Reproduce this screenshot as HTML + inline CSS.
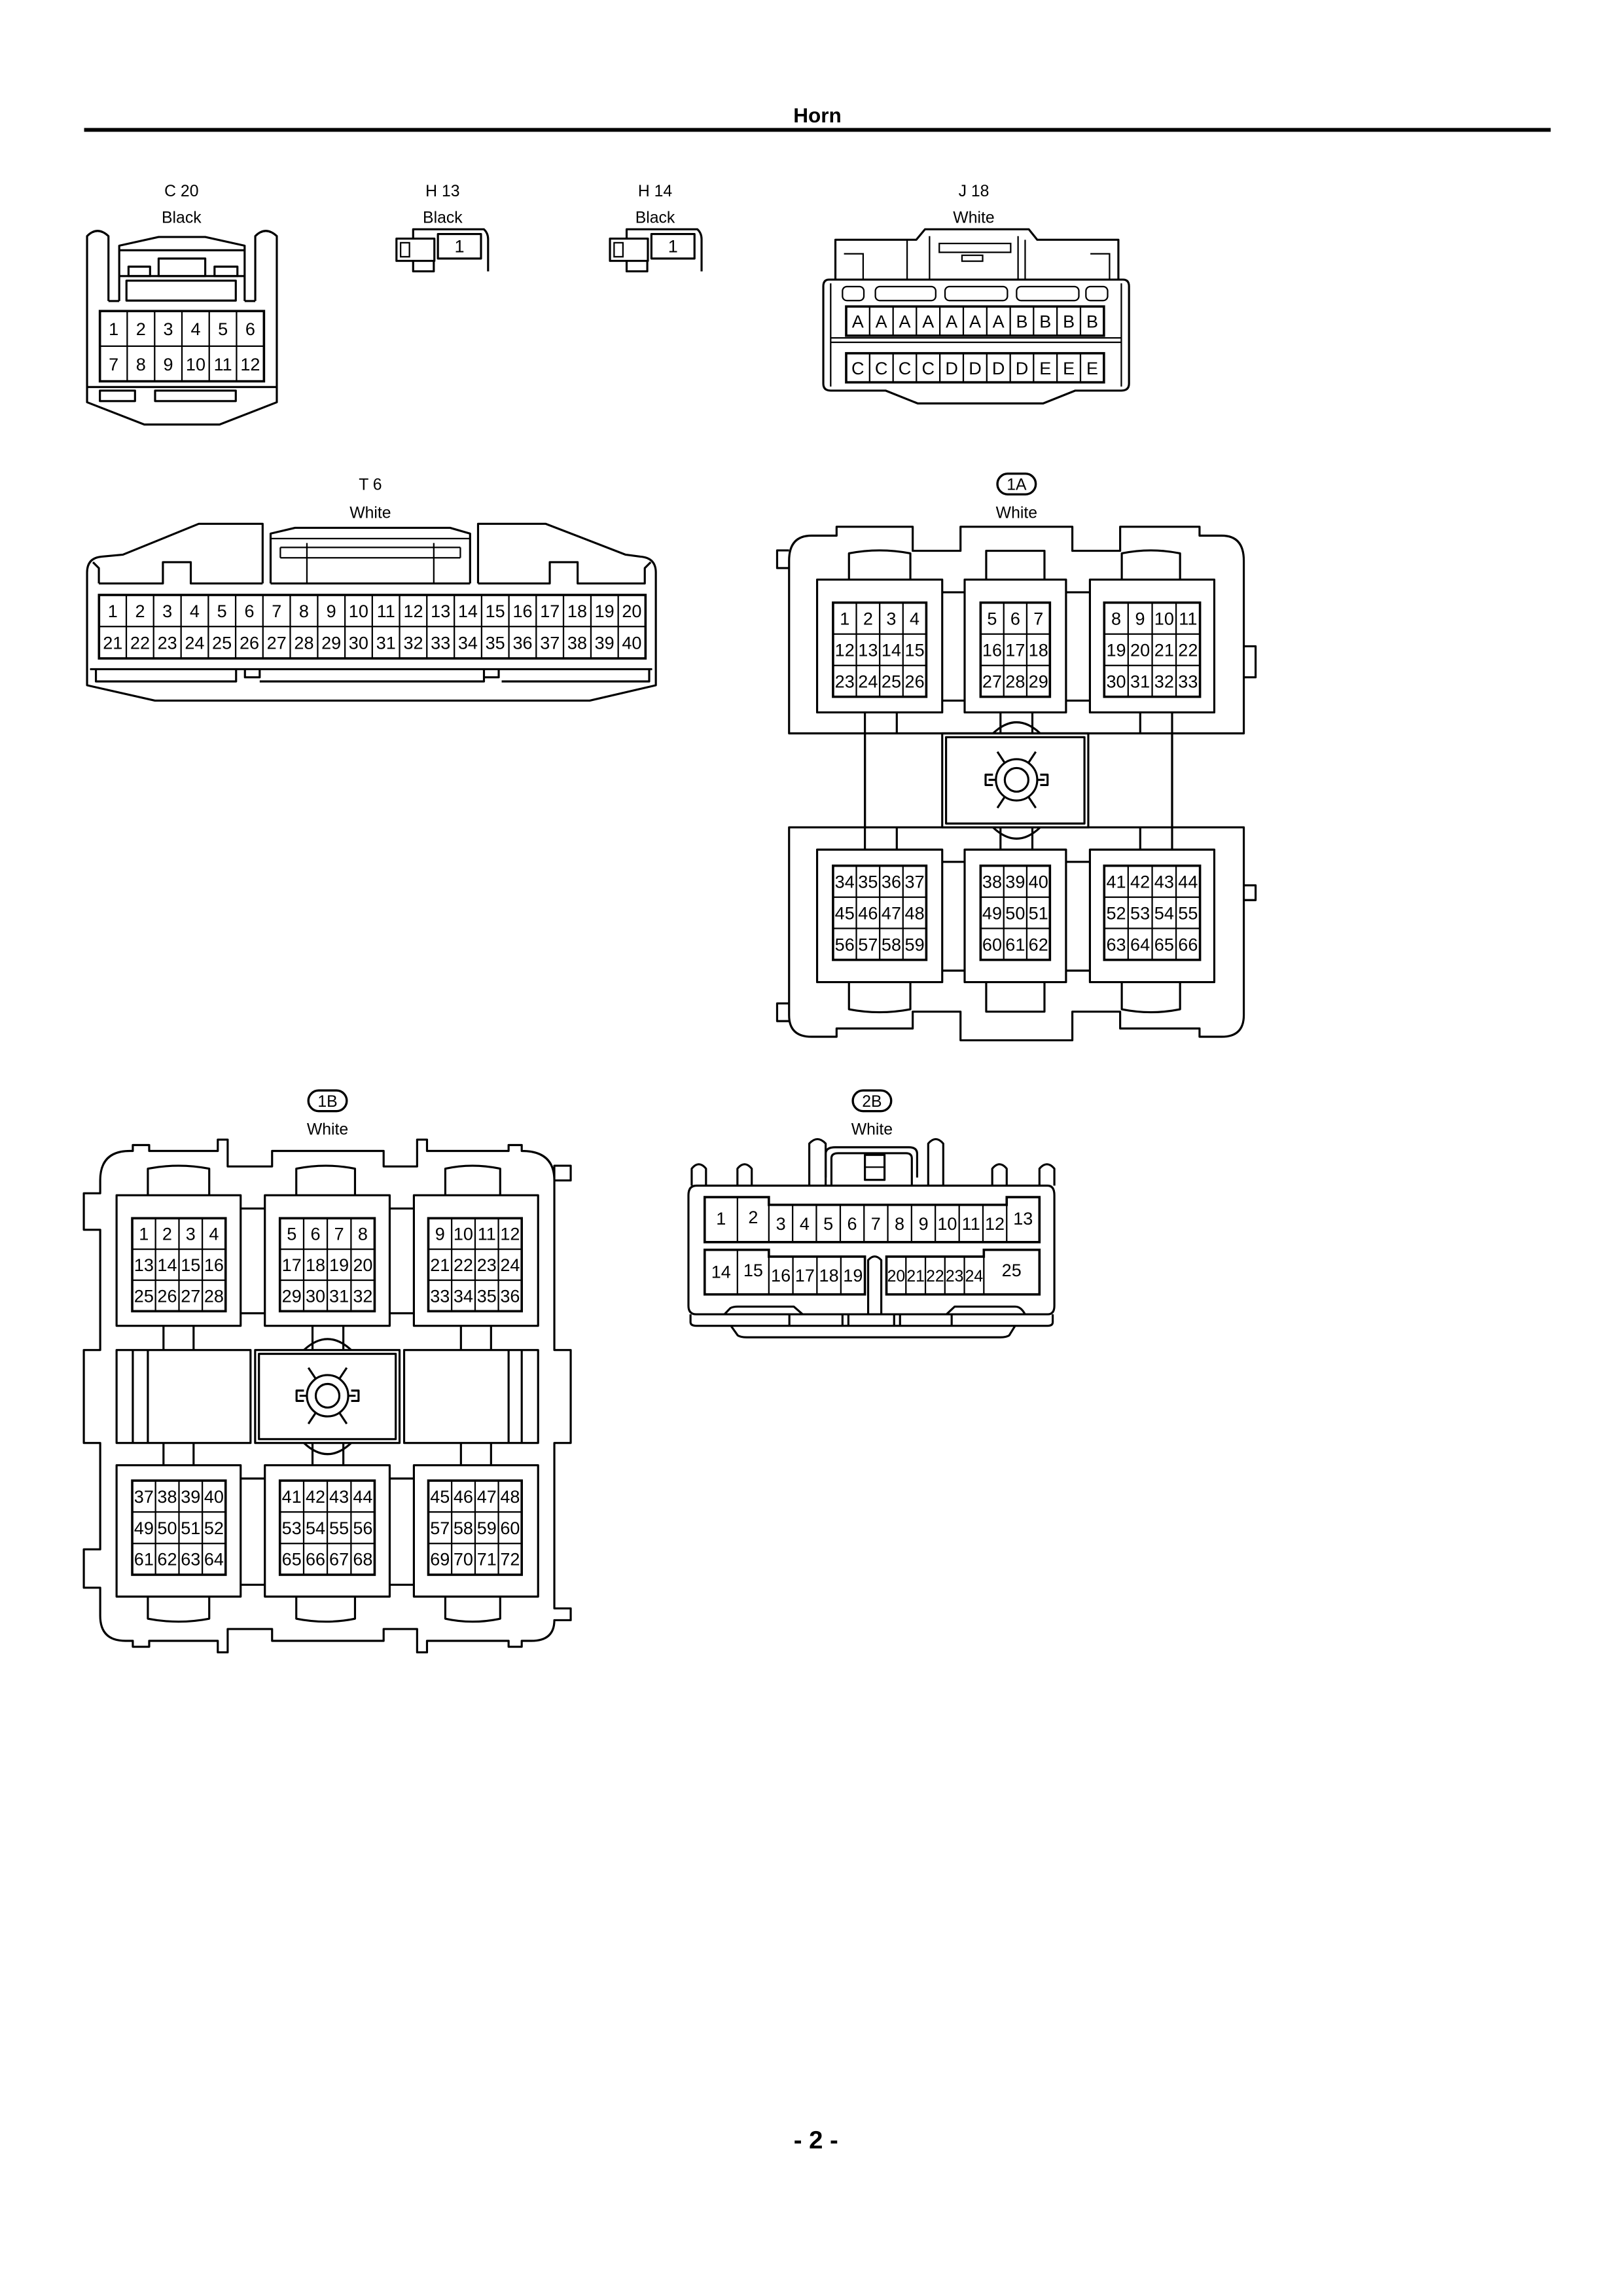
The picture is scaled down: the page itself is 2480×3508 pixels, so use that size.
<!DOCTYPE html>
<html><head><meta charset="utf-8"><style>
html,body{margin:0;padding:0;background:#fff}
svg{display:block}
.o{fill:none;stroke:#000;stroke-width:1.4;stroke-linejoin:round}
.i{fill:none;stroke:#000;stroke-width:1}
.g{fill:none;stroke:#000;stroke-width:1.6}
text{font-family:"Liberation Sans",sans-serif;text-anchor:middle;fill:#000}
.t{font-size:12px}
.s{font-size:11px}
.l{font-size:11px}
</style></head><body>
<svg width="2480" height="3508" viewBox="0 0 1100 1556" xmlns="http://www.w3.org/2000/svg">
<defs></defs>
<rect width="1100" height="1556" fill="#fff"/>
<text x="554" y="83" style="font-size:14px;font-weight:bold">Horn</text>
<line x1="57" y1="88" x2="1051" y2="88" stroke="#000" stroke-width="2.6"/>

<!-- C20 -->
<text class="l" x="123" y="133">C 20</text><text class="l" x="123" y="151">Black</text>
<path class="o" d="M73.5,204 L73.5,160 Q66,153 59,160 L59,272.6 L97.8,287.7 L148.8,287.7 L187.6,272.6 L187.6,160 Q180,153 173,160 L173,204 M73.5,204 L80.8,204 M165.8,204 L173,204"/>
<path class="o" d="M80.8,204 L80.8,166.5 L107.5,160.6 L139.1,160.6 L165.8,166.5 L165.8,204 M80.8,169.6 L165.8,169.6 M80.8,187.1 L165.8,187.1"/>
<rect class="o" x="107.5" y="175.2" width="31.6" height="11.9"/>
<rect class="o" x="87.1" y="180.7" width="14.6" height="6.4"/><rect class="o" x="145.4" y="180.7" width="15.5" height="6.4"/>
<rect class="o" x="85.7" y="190.2" width="74.1" height="13.5"/>
<rect class="g" x="67.7" y="210.8" width="111.2" height="47.6"/>
<path class="i" d="M86.2,210.8V258.4M104.8,210.8V258.4M123.3,210.8V258.4M141.8,210.8V258.4M160.3,210.8V258.4M67.7,234.6H178.9"/>
<line class="o" x1="59" y1="262.3" x2="187.6" y2="262.3"/>
<rect class="o" x="67.7" y="264.7" width="23.8" height="7.1"/><rect class="o" x="105.1" y="264.7" width="54.7" height="7.1"/>
<g class="t"><text x="77" y="227">1</text><text x="95.5" y="227">2</text><text x="114" y="227">3</text><text x="132.6" y="227">4</text><text x="151.1" y="227">5</text><text x="169.6" y="227">6</text>
<text x="77" y="251">7</text><text x="95.5" y="251">8</text><text x="114" y="251">9</text><text x="132.6" y="251">10</text><text x="151.1" y="251">11</text><text x="169.6" y="251">12</text></g>

<!-- H13 / H14 -->
<g>
<rect class="o" x="268.7" y="161.7" width="25.7" height="15.1"/>
<rect class="i" x="271.5" y="164.5" width="6" height="9.5"/>
<path class="o" d="M280,161.7 L280,155.4 L328,155.4 Q330.8,158 330.8,162 L330.8,183.9 M280,176.8 L280,183.9 L294,183.9 L294,176.8"/>
<rect class="o" x="296.8" y="158.6" width="29.2" height="16.6"/>
<text class="t" x="311.4" y="171">1</text>
</g>
<text class="l" x="300" y="133">H 13</text><text class="l" x="300" y="151">Black</text>
<g transform="translate(144.7,0)">
<rect class="o" x="268.7" y="161.7" width="25.7" height="15.1"/>
<rect class="i" x="271.5" y="164.5" width="6" height="9.5"/>
<path class="o" d="M280,161.7 L280,155.4 L328,155.4 Q330.8,158 330.8,162 L330.8,183.9 M280,176.8 L280,183.9 L294,183.9 L294,176.8"/>
<rect class="o" x="296.8" y="158.6" width="29.2" height="16.6"/>
<text class="t" x="311.4" y="171">1</text>
</g>
<text class="l" x="444" y="133">H 14</text><text class="l" x="444" y="151">Black</text>

<!-- J18 -->
<text class="l" x="660" y="133">J 18</text><text class="l" x="660" y="151">White</text>
<path class="o" d="M566.2,189.5 L566.2,162.5 L621,162.5 L626.9,155.4 L697.3,155.4 L703,162.5 L758,162.5 L758,189.5"/>
<path class="o" d="M562,189.5 L761,189.5 Q765.2,189.5 765.2,194 L765.2,260 Q765.2,264.7 760,264.7 L728.8,264.7 L707,273.4 L622,273.4 L600.2,264.7 L563,264.7 Q558,264.7 558,260 L558,194 Q558,189.5 562,189.5 Z"/>
<path class="i" d="M614.8,162.5V189.5M694.8,162.5V189.5M630,160V189.5M690,160V189.5M572,172H585V189.5M739,172H752V189.5"/>
<rect class="i" x="636.6" y="165" width="48.4" height="6"/><rect class="i" x="652" y="173" width="14" height="4"/>
<path class="i" d="M563,229 L760,229 M563,232 L760,232 M563,192 V262 M760,192 V262"/>
<rect class="i" x="571" y="194.2" width="14.5" height="9.5" rx="3"/><rect class="i" x="593.3" y="194.2" width="40.9" height="9.5" rx="3"/><rect class="i" x="640.5" y="194.2" width="42.3" height="9.5" rx="3"/><rect class="i" x="689" y="194.2" width="42.2" height="9.5" rx="3"/><rect class="i" x="736" y="194.2" width="14.7" height="9.5" rx="3"/>
<rect class="g" x="573.5" y="207.7" width="174.7" height="19.8"/><rect class="g" x="573.5" y="239.4" width="174.7" height="19.7"/>
<path class="i" d="M589.4,207.7V227.5M605.3,207.7V227.5M621.1,207.7V227.5M637,207.7V227.5M652.9,207.7V227.5M668.8,207.7V227.5M684.7,207.7V227.5M700.5,207.7V227.5M716.4,207.7V227.5M732.3,207.7V227.5M589.4,239.4V259.1M605.3,239.4V259.1M621.1,239.4V259.1M637,239.4V259.1M652.9,239.4V259.1M668.8,239.4V259.1M684.7,239.4V259.1M700.5,239.4V259.1M716.4,239.4V259.1M732.3,239.4V259.1"/>
<g class="t"><text x="581.4" y="222">A</text><text x="597.3" y="222">A</text><text x="613.2" y="222">A</text><text x="629.1" y="222">A</text><text x="645" y="222">A</text><text x="660.9" y="222">A</text><text x="676.7" y="222">A</text><text x="692.6" y="222">B</text><text x="708.5" y="222">B</text><text x="724.4" y="222">B</text><text x="740.3" y="222">B</text>
<text x="581.4" y="253.7">C</text><text x="597.3" y="253.7">C</text><text x="613.2" y="253.7">C</text><text x="629.1" y="253.7">C</text><text x="645" y="253.7">D</text><text x="660.9" y="253.7">D</text><text x="676.7" y="253.7">D</text><text x="692.6" y="253.7">D</text><text x="708.5" y="253.7">E</text><text x="724.4" y="253.7">E</text><text x="740.3" y="253.7">E</text></g>

<!-- T6 -->
<text class="l" x="251" y="332">T 6</text><text class="l" x="251" y="351">White</text>
<path class="o" d="M178,395.4 L178,355 L134.7,355 L83.3,375.9 L69,377.2 Q59,378 59,388 L59,464.4 L105,474.8 L399.7,474.8 L444.5,464.4 L444.5,388 Q444.5,378 434,377.2 L424,375.9 L369.9,355 L324,355 L324,395.4"/>
<path class="o" d="M67,395.4 L67,385 L63,381 M67,395.4 L110.4,395.4 L110.4,381 L129.3,381 L129.3,395.4 L178,395.4 M183.4,395.4 L318.6,395.4 M324,395.4 L372.6,395.4 L372.6,381 L391.5,381 L391.5,395.4 L437,395.4 L437,385 L441,381"/>
<path class="o" d="M183.4,395.4 L183.4,361.6 L200,357.7 L305,357.7 L318.6,361.6 L318.6,395.4"/>
<path class="i" d="M183.4,365 H318.6 M190,371 H312 M190,378 H312 M190,371 V378 M312,371 V378 M208,368 V395.4 M294,368 V395.4"/>
<rect class="g" x="67.1" y="403.2" width="370.4" height="43"/>
<path class="i" d="M85.6,403.2V446.2M104.1,403.2V446.2M122.7,403.2V446.2M141.2,403.2V446.2M159.7,403.2V446.2M178.2,403.2V446.2M196.7,403.2V446.2M215.3,403.2V446.2M233.8,403.2V446.2M252.3,403.2V446.2M270.8,403.2V446.2M289.3,403.2V446.2M307.9,403.2V446.2M326.4,403.2V446.2M344.9,403.2V446.2M363.4,403.2V446.2M381.9,403.2V446.2M400.5,403.2V446.2M419,403.2V446.2M67.1,424.6H437.5"/>
<path class="o" d="M61,453.5 H442 M65,453.5 V461.8 H160 V453.5 M166,453.5 V459 H176 V453.5 M176,461.8 H328 V453.5 M328,459 H338 V453.5 M340,461.8 H440 V453.5"/>
<g class="t"><text x="76.4" y="418.3">1</text><text x="94.9" y="418.3">2</text><text x="113.4" y="418.3">3</text><text x="131.9" y="418.3">4</text><text x="150.4" y="418.3">5</text><text x="169" y="418.3">6</text><text x="187.5" y="418.3">7</text><text x="206" y="418.3">8</text><text x="224.5" y="418.3">9</text><text x="243" y="418.3">10</text><text x="261.6" y="418.3">11</text><text x="280.1" y="418.3">12</text><text x="298.6" y="418.3">13</text><text x="317.1" y="418.3">14</text><text x="335.6" y="418.3">15</text><text x="354.2" y="418.3">16</text><text x="372.7" y="418.3">17</text><text x="391.2" y="418.3">18</text><text x="409.7" y="418.3">19</text><text x="428.2" y="418.3">20</text>
<text x="76.4" y="439.7">21</text><text x="94.9" y="439.7">22</text><text x="113.4" y="439.7">23</text><text x="131.9" y="439.7">24</text><text x="150.4" y="439.7">25</text><text x="169" y="439.7">26</text><text x="187.5" y="439.7">27</text><text x="206" y="439.7">28</text><text x="224.5" y="439.7">29</text><text x="243" y="439.7">30</text><text x="261.6" y="439.7">31</text><text x="280.1" y="439.7">32</text><text x="298.6" y="439.7">33</text><text x="317.1" y="439.7">34</text><text x="335.6" y="439.7">35</text><text x="354.2" y="439.7">36</text><text x="372.7" y="439.7">37</text><text x="391.2" y="439.7">38</text><text x="409.7" y="439.7">39</text><text x="428.2" y="439.7">40</text></g>

<!-- 1A -->
<rect x="676" y="321" width="26" height="14" rx="7" fill="none" stroke="#000" stroke-width="1.5"/>
<text class="l" x="689" y="332">1A</text><text class="l" x="689" y="351">White</text>
<path class="o" d="M534.8,380 Q534.8,363 550,363 L567,363 L567,357 L618.6,357 L618.6,373.3 L651,373.3 L651,357 L726.8,357 L726.8,373.3 L759.2,373.3 L759.2,357 L813,357 L813,363 L828,363 Q843,363 843,380 L843,497 L794.4,497 L794.4,560.7 L843,560.7 L843,688 Q843,702.6 828,702.6 L813,702.6 L813,697 L759.2,697 L759.2,685.6 L726.8,685.6 L726.8,705 L651,705 L651,685.6 L618.6,685.6 L618.6,697 L567,697 L567,702.6 L550,702.6 Q534.8,702.6 534.8,688 L534.8,560.7 L586.2,560.7 L586.2,497 L534.8,497 Z"/>
<path class="o" d="M534.8,373 H526.7 V385 H534.8 M534.8,680 H526.7 V692 H534.8 M843,438 H851 V459 H843 M843,600 H851 V610 H843"/>
<rect class="o" x="553.8" y="392.8" width="84.8" height="90"/><rect class="o" x="653.8" y="392.8" width="68.7" height="90"/><rect class="o" x="738.7" y="392.8" width="84.3" height="90"/>
<rect class="o" x="553.8" y="575.8" width="84.8" height="89.8"/><rect class="o" x="653.8" y="575.8" width="68.7" height="89.8"/><rect class="o" x="738.7" y="575.8" width="84.3" height="89.8"/>
<path class="o" d="M575.4,392.8V375Q596,371 617,375V392.8M668.4,392.8V373.3H707.9V392.8M760.3,392.8V375Q780,371 799.8,375V392.8M575.4,665.6V684Q596,688 617,684V665.6M668.4,665.6V685.6H707.9V665.6M760.3,665.6V684Q780,688 799.8,684V665.6"/>
<path class="o" d="M638.6,401.4H653.8M722.5,401.4H738.7M638.6,474.8H653.8M722.5,474.8H738.7M638.6,584.1H653.8M722.5,584.1H738.7M638.6,657.8H653.8M722.5,657.8H738.7"/>
<path class="o" d="M586.2,482.8V575.8M607.8,482.8V497M607.8,560.7V575.8M794.4,482.8V575.8M772.8,482.8V497M772.8,560.7V575.8M678.1,482.8V497M699.7,482.8V497M678.1,560.7V575.8M699.7,560.7V575.8M586.2,497H794.4M586.2,560.7H794.4"/>
<path class="o" d="M673,497 Q689,482 705,497 M673,560.7 Q689,576 705,560.7"/>
<rect class="o" x="638.6" y="497" width="99" height="63.7" fill="#fff"/><rect class="o" x="641.2" y="499.6" width="93.8" height="58.5"/>
<g transform="translate(689,528.5)"><circle class="o" r="8"/><circle class="o" r="14"/><path class="o" d="M-14,0H-19M14,0H19M-16,-3.5H-21V3.5H-16M16,-3.5H21V3.5H16M-8,-11.5L-13,-19M8,-11.5L13,-19M-8,11.5L-13,19M8,11.5L13,19"/></g>
<rect class="g" x="564.6" y="408.4" width="63.2" height="63.8"/><rect class="g" x="664.6" y="408.4" width="47" height="63.8"/><rect class="g" x="748.4" y="408.4" width="64.9" height="63.8"/>
<rect class="g" x="564.6" y="586.7" width="63.2" height="63.8"/><rect class="g" x="664.6" y="586.7" width="47" height="63.8"/><rect class="g" x="748.4" y="586.7" width="64.9" height="63.8"/>
<path class="i" d="M580.4,408.4V472.2M596.2,408.4V472.2M612,408.4V472.2M680.3,408.4V472.2M695.9,408.4V472.2M764.6,408.4V472.2M780.9,408.4V472.2M797.1,408.4V472.2M564.6,429.7H627.8M564.6,451H627.8M664.6,429.7H711.6M664.6,451H711.6M748.4,429.7H813.3M748.4,451H813.3
M580.4,586.7V650.5M596.2,586.7V650.5M612,586.7V650.5M680.3,586.7V650.5M695.9,586.7V650.5M764.6,586.7V650.5M780.9,586.7V650.5M797.1,586.7V650.5M564.6,608H627.8M564.6,629.2H627.8M664.6,608H711.6M664.6,629.2H711.6M748.4,608H813.3M748.4,629.2H813.3"/>
<g class="t">
<text x="572.5" y="423.3">1</text><text x="588.3" y="423.3">2</text><text x="604.1" y="423.3">3</text><text x="619.9" y="423.3">4</text>
<text x="572.5" y="444.6">12</text><text x="588.3" y="444.6">13</text><text x="604.1" y="444.6">14</text><text x="619.9" y="444.6">15</text>
<text x="572.5" y="465.9">23</text><text x="588.3" y="465.9">24</text><text x="604.1" y="465.9">25</text><text x="619.9" y="465.9">26</text>
<text x="672.4" y="423.3">5</text><text x="688.1" y="423.3">6</text><text x="703.8" y="423.3">7</text>
<text x="672.4" y="444.6">16</text><text x="688.1" y="444.6">17</text><text x="703.8" y="444.6">18</text>
<text x="672.4" y="465.9">27</text><text x="688.1" y="465.9">28</text><text x="703.8" y="465.9">29</text>
<text x="756.5" y="423.3">8</text><text x="772.7" y="423.3">9</text><text x="789" y="423.3">10</text><text x="805.2" y="423.3">11</text>
<text x="756.5" y="444.6">19</text><text x="772.7" y="444.6">20</text><text x="789" y="444.6">21</text><text x="805.2" y="444.6">22</text>
<text x="756.5" y="465.9">30</text><text x="772.7" y="465.9">31</text><text x="789" y="465.9">32</text><text x="805.2" y="465.9">33</text>
<text x="572.5" y="601.6">34</text><text x="588.3" y="601.6">35</text><text x="604.1" y="601.6">36</text><text x="619.9" y="601.6">37</text>
<text x="572.5" y="622.9">45</text><text x="588.3" y="622.9">46</text><text x="604.1" y="622.9">47</text><text x="619.9" y="622.9">48</text>
<text x="572.5" y="644.2">56</text><text x="588.3" y="644.2">57</text><text x="604.1" y="644.2">58</text><text x="619.9" y="644.2">59</text>
<text x="672.4" y="601.6">38</text><text x="688.1" y="601.6">39</text><text x="703.8" y="601.6">40</text>
<text x="672.4" y="622.9">49</text><text x="688.1" y="622.9">50</text><text x="703.8" y="622.9">51</text>
<text x="672.4" y="644.2">60</text><text x="688.1" y="644.2">61</text><text x="703.8" y="644.2">62</text>
<text x="756.5" y="601.6">41</text><text x="772.7" y="601.6">42</text><text x="789" y="601.6">43</text><text x="805.2" y="601.6">44</text>
<text x="756.5" y="622.9">52</text><text x="772.7" y="622.9">53</text><text x="789" y="622.9">54</text><text x="805.2" y="622.9">55</text>
<text x="756.5" y="644.2">63</text><text x="772.7" y="644.2">64</text><text x="789" y="644.2">65</text><text x="805.2" y="644.2">66</text>
</g>

<!-- 1B -->
<rect x="209" y="739" width="26" height="14" rx="7" fill="none" stroke="#000" stroke-width="1.5"/>
<text class="l" x="222" y="750">1B</text><text class="l" x="222" y="769">White</text>
<path class="o" d="M67.9,800 Q67.9,780 88,780 L90,780 L90,776 L101.1,776 L101.1,780 L147.6,780 L147.6,772.3 L154.3,772.3 L154.3,790.5 L184.4,790.5 L184.4,780 L260,780 L260,790.5 L282.7,790.5 L282.7,772.3 L289.4,772.3 L289.4,780 L344.7,780 L344.7,776 L353.6,776 L353.6,780 Q375.7,780 375.7,800 L375.7,790 L386.8,790 L386.8,800 L375.7,800 L375.7,914.9 L386.8,914.9 L386.8,977.9 L375.7,977.9 L375.7,1090 L386.8,1090 L386.8,1098 L375.7,1098 Q375.7,1112 360,1112 L353.6,1112 L353.6,1116 L344.7,1116 L344.7,1112 L289.4,1112 L289.4,1119.8 L282.7,1119.8 L282.7,1104 L260,1104 L260,1112 L184.4,1112 L184.4,1104 L154.3,1104 L154.3,1119.8 L147.6,1119.8 L147.6,1112 L101.1,1112 L101.1,1116 L90,1116 L90,1112 L85,1112 Q67.9,1112 67.9,1095 L67.9,1076 L56.8,1076 L56.8,1050 L67.9,1050 L67.9,977.9 L56.8,977.9 L56.8,914.9 L67.9,914.9 L67.9,833.4 L56.8,833.4 L56.8,808.7 L67.9,808.7 Z"/>
<rect class="o" x="79" y="810" width="84.1" height="88.5"/><rect class="o" x="179.5" y="810" width="84.6" height="88.5"/><rect class="o" x="280.5" y="810" width="84.2" height="88.5"/>
<rect class="o" x="79" y="993" width="84.1" height="89"/><rect class="o" x="179.5" y="993" width="84.6" height="89"/><rect class="o" x="280.5" y="993" width="84.2" height="89"/>
<path class="o" d="M100.2,810V792Q121,788 141.8,792V810M200.8,810V792Q221,788 240.6,792V810M301.8,810V792Q320,788 339,792V810M100.2,1082V1097Q121,1101 141.8,1097V1082M200.8,1082V1097Q221,1101 240.6,1097V1082M301.8,1082V1097Q320,1101 339,1097V1082"/>
<path class="o" d="M163.1,819H179.5M264.1,819H280.5M163.1,890H179.5M264.1,890H280.5M163.1,1002H179.5M264.1,1002H280.5M163.1,1074H179.5M264.1,1074H280.5"/>
<path class="o" d="M110.8,898.5V914.9M131.2,898.5V914.9M211.8,898.5V914.9M232.7,898.5V914.9M312.4,898.5V914.9M332.8,898.5V914.9M110.8,977.9V993M131.2,977.9V993M211.8,977.9V993M232.7,977.9V993M312.4,977.9V993M332.8,977.9V993"/>
<rect class="o" x="79" y="914.9" width="90.8" height="63"/><rect class="o" x="273.9" y="914.9" width="90.8" height="63"/>
<path class="o" d="M90,914.9V977.9M100.2,914.9V977.9M344.7,914.9V977.9M353.6,914.9V977.9M206,914.9Q222,900 238,914.9M206,977.9Q222,993 238,977.9"/>
<rect class="o" x="172.9" y="914.9" width="97.9" height="63" fill="#fff"/><rect class="o" x="175.5" y="917.5" width="92.7" height="57.8"/>
<g transform="translate(222,945.9)"><circle class="o" r="8"/><circle class="o" r="14"/><path class="o" d="M-14,0H-19M14,0H19M-16,-3.5H-21V3.5H-16M16,-3.5H21V3.5H16M-8,-11.5L-13,-19M8,-11.5L13,-19M-8,11.5L-13,19M8,11.5L13,19"/></g>
<rect class="g" x="89.6" y="825.6" width="63.3" height="63"/><rect class="g" x="189.7" y="825.6" width="64.2" height="63"/><rect class="g" x="290.3" y="825.6" width="63.3" height="63"/>
<rect class="g" x="89.6" y="1003.4" width="63.3" height="63.8"/><rect class="g" x="189.7" y="1003.4" width="64.2" height="63.8"/><rect class="g" x="290.3" y="1003.4" width="63.3" height="63.8"/>
<path class="i" d="M105.4,825.6V888.6M121.3,825.6V888.6M137.1,825.6V888.6M205.8,825.6V888.6M221.8,825.6V888.6M237.9,825.6V888.6M306.1,825.6V888.6M322,825.6V888.6M337.8,825.6V888.6M89.6,846.6H152.9M89.6,867.6H152.9M189.7,846.6H253.9M189.7,867.6H253.9M290.3,846.6H353.6M290.3,867.6H353.6
M105.4,1003.4V1067.2M121.3,1003.4V1067.2M137.1,1003.4V1067.2M205.8,1003.4V1067.2M221.8,1003.4V1067.2M237.9,1003.4V1067.2M306.1,1003.4V1067.2M322,1003.4V1067.2M337.8,1003.4V1067.2M89.6,1024.7H152.9M89.6,1046H152.9M189.7,1024.7H253.9M189.7,1046H253.9M290.3,1024.7H353.6M290.3,1046H353.6"/>
<g class="t">
<text x="97.5" y="840.4">1</text><text x="113.3" y="840.4">2</text><text x="129.2" y="840.4">3</text><text x="145" y="840.4">4</text>
<text x="97.5" y="861.4">13</text><text x="113.3" y="861.4">14</text><text x="129.2" y="861.4">15</text><text x="145" y="861.4">16</text>
<text x="97.5" y="882.4">25</text><text x="113.3" y="882.4">26</text><text x="129.2" y="882.4">27</text><text x="145" y="882.4">28</text>
<text x="197.7" y="840.4">5</text><text x="213.8" y="840.4">6</text><text x="229.8" y="840.4">7</text><text x="245.9" y="840.4">8</text>
<text x="197.7" y="861.4">17</text><text x="213.8" y="861.4">18</text><text x="229.8" y="861.4">19</text><text x="245.9" y="861.4">20</text>
<text x="197.7" y="882.4">29</text><text x="213.8" y="882.4">30</text><text x="229.8" y="882.4">31</text><text x="245.9" y="882.4">32</text>
<text x="298.2" y="840.4">9</text><text x="314" y="840.4">10</text><text x="329.9" y="840.4">11</text><text x="345.7" y="840.4">12</text>
<text x="298.2" y="861.4">21</text><text x="314" y="861.4">22</text><text x="329.9" y="861.4">23</text><text x="345.7" y="861.4">24</text>
<text x="298.2" y="882.4">33</text><text x="314" y="882.4">34</text><text x="329.9" y="882.4">35</text><text x="345.7" y="882.4">36</text>
<text x="97.5" y="1018.3">37</text><text x="113.3" y="1018.3">38</text><text x="129.2" y="1018.3">39</text><text x="145" y="1018.3">40</text>
<text x="97.5" y="1039.6">49</text><text x="113.3" y="1039.6">50</text><text x="129.2" y="1039.6">51</text><text x="145" y="1039.6">52</text>
<text x="97.5" y="1060.8">61</text><text x="113.3" y="1060.8">62</text><text x="129.2" y="1060.8">63</text><text x="145" y="1060.8">64</text>
<text x="197.7" y="1018.3">41</text><text x="213.8" y="1018.3">42</text><text x="229.8" y="1018.3">43</text><text x="245.9" y="1018.3">44</text>
<text x="197.7" y="1039.6">53</text><text x="213.8" y="1039.6">54</text><text x="229.8" y="1039.6">55</text><text x="245.9" y="1039.6">56</text>
<text x="197.7" y="1060.8">65</text><text x="213.8" y="1060.8">66</text><text x="229.8" y="1060.8">67</text><text x="245.9" y="1060.8">68</text>
<text x="298.2" y="1018.3">45</text><text x="314" y="1018.3">46</text><text x="329.9" y="1018.3">47</text><text x="345.7" y="1018.3">48</text>
<text x="298.2" y="1039.6">57</text><text x="314" y="1039.6">58</text><text x="329.9" y="1039.6">59</text><text x="345.7" y="1039.6">60</text>
<text x="298.2" y="1060.8">69</text><text x="314" y="1060.8">70</text><text x="329.9" y="1060.8">71</text><text x="345.7" y="1060.8">72</text>
</g>

<!-- 2B -->
<rect x="578" y="739" width="26" height="14" rx="7" fill="none" stroke="#000" stroke-width="1.5"/>
<text class="l" x="591" y="750">2B</text><text class="l" x="591" y="769">White</text>
<path class="o" d="M472,803.5 L710,803.5 Q714.6,803.5 714.6,810 L714.6,885 Q714.6,890.7 710,890.7 L472,890.7 Q466.6,890.7 466.6,885 L466.6,810 Q466.6,803.5 472,803.5 Z"/>
<path class="o" d="M468,890.7 V896 Q468,898.5 472,898.5 H710 Q713.5,898.5 713.5,896 V890.7 M495.4,898.5 L500,905 Q502,906.3 506,906.3 L678,906.3 Q682,906.3 684,905 L688,898.5"/>
<path class="o" d="M491,890.7 L495,886.5 Q497,885.5 500,885.5 L538,885.5 L544,890.7 M641.5,890.7 L647,885.5 L688,885.5 Q692,885.5 694.7,890.7 M535,890.7V898.5M571,890.7V898.5M575,890.7V898.5M606,890.7V898.5M610,890.7V898.5M645,890.7V898.5"/>
<path class="o" d="M468.8,803.5V792Q473.6,786 478.5,792V803.5M499.8,803.5V792Q504.6,786 509.5,792V803.5M548.5,803.5V775Q554,769 559.6,775V803.5M629.1,803.5V775Q634.2,769 639.3,775V803.5M672.5,803.5V792Q677.4,786 682.3,792V803.5M704.5,803.5V792Q709.6,786 714.6,792V803.5"/>
<path class="o" d="M559.6,798 V782 Q559.6,777.5 566,777.5 L616,777.5 Q621.6,777.5 621.6,782 V798 M563.5,803.5 V785 Q563.5,781.5 568,781.5 L614,781.5 Q618,781.5 618,785 V803.5"/>
<rect class="o" x="586.2" y="782.7" width="13.3" height="16.9"/><line class="i" x1="586.2" y1="791" x2="599.5" y2="791"/>
<path class="o" d="M588.4,890.7 V854 Q592.8,849 597.3,854 V890.7"/>
<path class="g" d="M477.6,811.3H521.1V816.5H682.3V811.3H704.5V841.8H477.6Z"/>
<path class="g" d="M477.6,847H521.1V851.6H586.2V877.2H477.6Z"/>
<path class="g" d="M600.8,851.6H666.8V847H704.5V877.2H600.8Z"/>
<path class="i" d="M499.8,811.3V841.8M521.1,816.5V841.8M537.2,816.5V841.8M553.3,816.5V841.8M569.5,816.5V841.8M585.6,816.5V841.8M601.7,816.5V841.8M617.8,816.5V841.8M633.9,816.5V841.8M650.1,816.5V841.8M666.2,816.5V841.8M682.3,816.5V841.8
M499.8,847V877.2M521.1,851.6V877.2M537.4,851.6V877.2M553.7,851.6V877.2M569.9,851.6V877.2M614,851.6V877.2M627.2,851.6V877.2M640.4,851.6V877.2M653.6,851.6V877.2M666.8,851.6V877.2"/>
<g class="t">
<text x="488.7" y="830">1</text><text x="510.5" y="829">2</text>
<text x="529.2" y="833.5">3</text><text x="545.3" y="833.5">4</text><text x="561.4" y="833.5">5</text><text x="577.5" y="833.5">6</text><text x="593.6" y="833.5">7</text><text x="609.7" y="833.5">8</text><text x="625.9" y="833.5">9</text><text x="642" y="833.5">10</text><text x="658.1" y="833.5">11</text><text x="674.2" y="833.5">12</text>
<text x="693.4" y="830">13</text>
<text x="488.7" y="866">14</text><text x="510.5" y="865">15</text>
<text x="529.2" y="868.5">16</text><text x="545.5" y="868.5">17</text><text x="561.8" y="868.5">18</text><text x="578.1" y="868.5">19</text>
<text x="685.6" y="865">25</text>
</g>
<g class="s"><text x="607.4" y="868.5">20</text><text x="620.6" y="868.5">21</text><text x="633.8" y="868.5">22</text><text x="647" y="868.5">23</text><text x="660.2" y="868.5">24</text></g>

<text x="553" y="1456" style="font-size:17px;font-weight:bold">- 2 -</text>
</svg>
</body></html>
